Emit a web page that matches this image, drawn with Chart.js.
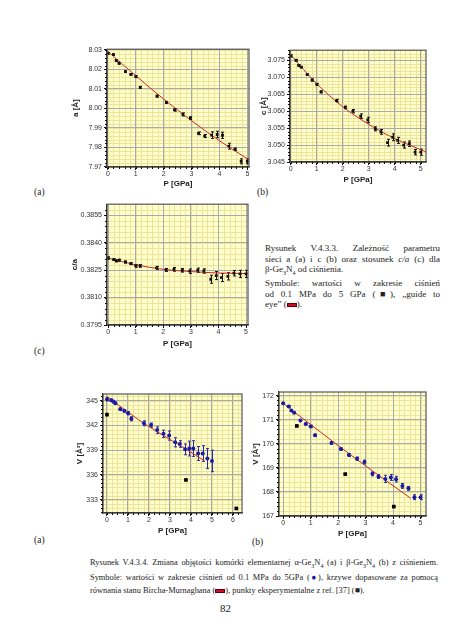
<!DOCTYPE html>
<html><head><meta charset="utf-8">
<script src="https://cdn.jsdelivr.net/npm/chart.js@4.4.1/dist/chart.umd.min.js"></script>
<style>
html,body{margin:0;padding:0;background:#fff;width:452px;height:640px;overflow:hidden;position:relative;font-family:"Liberation Serif","Times New Roman",serif;color:#222;}
canvas{position:absolute;}
.lbl{position:absolute;font-size:9.5px;}
.cap{position:absolute;font-size:8.4px;line-height:10.5px;}
.cap div{white-space:nowrap;}
.j{text-align:justify;text-align-last:justify;white-space:normal!important;}
.rd{display:inline-block;width:8px;height:2px;background:#c8102e;border:0.5px solid #600;vertical-align:middle;}
</style></head><body>
<div class="lbl" style="left:34px;top:187px">(a)</div>
<div class="lbl" style="left:257px;top:187px">(b)</div>
<div class="lbl" style="left:34px;top:346px">(c)</div>
<div class="lbl" style="left:34px;top:535px">(a)</div>
<div class="lbl" style="left:252px;top:537px">(b)</div>
<div class="cap" style="left:265px;top:243px;width:175px;font-size:9px">
<div class="j">Rysunek V.4.3.3. Zależność parametru</div>
<div class="j">sieci a (a) i c (b) oraz stosunek <i>c/a</i> (c) dla</div>
<div>β-Ge<sub style="font-size:6px">3</sub>N<sub style="font-size:6px">4</sub> od ciśnienia.</div>
<div class="j">Symbole: wartości w zakresie ciśnień</div>
<div class="j">od 0.1 MPa do 5 GPa (■), „guide to</div>
<div>eye” (<span class="rd"></span>).</div>
</div>
<div class="cap" style="left:90px;top:557px;width:348px;line-height:12.5px">
<div class="j">Rysunek V.4.3.4. Zmiana objętości komórki elementarnej α-Ge<sub style="font-size:6px">3</sub>N<sub style="font-size:6px">4</sub> (a) i β-Ge<sub style="font-size:6px">3</sub>N<sub style="font-size:6px">4</sub> (b) z ciśnieniem.</div>
<div class="j">Symbole: wartości w zakresie ciśnień od 0.1 MPa do 5GPa (<span style="color:#1a1aa8">●</span>), krzywe dopasowane za pomocą</div>
<div>równania stanu Bircha-Murnaghana (<span class="rd"></span>), punkty eksperymentalne z ref. [37] (■).</div>
</div>
<div class="lbl" style="left:220px;top:602px;font-size:11px">82</div>
<script>
// ---------- DATA ----------
const P = [0, 0.2, 0.3, 0.4, 0.63, 0.82, 1.0, 1.16, 1.76, 2.1, 2.39, 2.69, 2.96, 3.25, 3.47, 3.72, 3.92, 4.11, 4.34, 4.56, 4.78, 5.0];

const aVal = [8.0283, 8.0276, 8.0246, 8.0232, 8.0189, 8.0175, 8.0163, 8.0108, 8.0063, 8.0031, 7.9992, 7.9969, 7.9950, 7.9872, 7.9858, 7.9863, 7.9866, 7.9862, 7.9806, 7.9790, 7.9728, 7.9728];
const aErr = [0.0004, 0.0004, 0.0004, 0.0004, 0.0004, 0.0004, 0.0005, 0.0005, 0.0005, 0.0005, 0.0006, 0.0008, 0.0007, 0.0007, 0.0008, 0.0017, 0.0017, 0.0016, 0.0015, 0.0006, 0.0013, 0.0013];
const aFitP = [0, 1, 2, 3, 4, 5.06];
const aFit = [8.0292, 8.0168, 8.0048, 7.9937, 7.9834, 7.9736];

const cVal = [3.0763, 3.0750, 3.0735, 3.0730, 3.0708, 3.0692, 3.0679, 3.0657, 3.0631, 3.0611, 3.0600, 3.0585, 3.0574, 3.0548, 3.0539, 3.0507, 3.0523, 3.0514, 3.0500, 3.0504, 3.0479, 3.0479];
const cErr = [0.0003, 0.0003, 0.0002, 0.0002, 0.0002, 0.0003, 0.0003, 0.0003, 0.0004, 0.0004, 0.0005, 0.0007, 0.0008, 0.0006, 0.0007, 0.0010, 0.0010, 0.0009, 0.0009, 0.0008, 0.0008, 0.0009];
const cFitP = [0, 1, 2, 3, 4, 5.2];
const cFit = [3.0766, 3.0681, 3.0613, 3.0561, 3.0519, 3.0480];

const caVal = [0.38316, 0.38307, 0.38300, 0.38304, 0.38294, 0.38285, 0.38273, 0.38273, 0.38262, 0.38251, 0.38254, 0.38249, 0.38244, 0.38249, 0.38245, 0.38200, 0.38220, 0.38209, 0.38216, 0.38233, 0.38229, 0.38229];
const caErr = [0.00006, 0.00005, 0.00005, 0.00005, 0.00005, 0.00005, 0.00007, 0.00007, 0.00008, 0.00008, 0.0001, 0.0001, 0.00012, 0.00012, 0.00012, 0.00022, 0.00022, 0.00022, 0.0002, 0.00015, 0.0002, 0.0002];
const caFitP = [0, 1, 2, 3, 4, 5.07];
const caFit = [0.38316, 0.38279, 0.38254, 0.38242, 0.38234, 0.38231];

const VaVal = [345.16, 345.04, 344.88, 344.68, 343.96, 343.76, 343.48, 342.8, 342.25, 342.04, 341.43, 340.98, 340.77, 339.95, 339.75, 339.1, 339.2, 339.2, 338.6, 338.6, 338.0, 337.7];
const VaErr = [0.2, 0.15, 0.15, 0.15, 0.15, 0.15, 0.2, 0.25, 0.3, 0.25, 0.4, 0.45, 0.55, 0.55, 0.4, 0.65, 0.9, 0.95, 0.85, 0.95, 1.2, 1.3];
const VaRefP = [0, 3.76, 6.16];
const VaRef = [343.3, 335.4, 331.95];
const VaFitP = [0, 1, 2, 3, 4, 4.65];
const VaFit = [345.5, 343.6, 341.85, 340.3, 338.75, 337.7];

const VbVal = [171.68, 171.55, 171.38, 171.29, 170.97, 170.82, 170.72, 170.35, 170.03, 169.78, 169.53, 169.38, 169.24, 168.75, 168.64, 168.54, 168.6, 168.53, 168.25, 168.15, 167.78, 167.78];
const VbErr = [0.03, 0.03, 0.03, 0.03, 0.04, 0.04, 0.05, 0.05, 0.05, 0.05, 0.06, 0.07, 0.08, 0.08, 0.08, 0.15, 0.12, 0.12, 0.1, 0.08, 0.1, 0.1];
const VbRefP = [0.5, 2.26, 4.03];
const VbRef = [170.74, 168.74, 167.39];
const VbFitP = [0, 1, 2, 3, 4, 4.65];
const VbFit = [171.68, 170.8, 169.93, 169.08, 168.26, 167.73];

const xTicks5 = [0, 1, 2, 3, 4, 5];
const xTicks6 = [0, 1, 2, 3, 4, 5, 6];
const aTicks = [7.97, 7.98, 7.99, 8.00, 8.01, 8.02, 8.03];
const cTicks = [3.045, 3.050, 3.055, 3.060, 3.065, 3.070, 3.075];
const caTicks = [0.3795, 0.3810, 0.3825, 0.3840, 0.3855];
const VaTicks = [333, 336, 339, 342, 345];
const VbTicks = [167, 168, 169, 170, 171, 172];

// ---------- DRAWING ----------
const pts = (xs, ys) => xs.map((x, i) => ({x, y: ys[i]}));

const deco = {
  id: 'deco',
  beforeDraw(chart, args, o) {
    const {ctx, chartArea: a, scales: {x, y}} = chart;
    ctx.save();
    ctx.fillStyle = '#ffffcc';
    ctx.fillRect(a.left, a.top, a.width, a.height);
    ctx.strokeStyle = '#eee39a';
    ctx.lineWidth = 1;
    ctx.beginPath();
    for (let v = Math.ceil(x.min / o.xm) * o.xm; v <= x.max; v += o.xm) {
      const p = Math.round(x.getPixelForValue(v)) + 0.5;
      ctx.moveTo(p, a.top); ctx.lineTo(p, a.bottom);
    }
    for (let v = Math.ceil(y.min / o.ym - 1e-6) * o.ym; v <= y.max; v += o.ym) {
      const p = Math.round(y.getPixelForValue(v)) + 0.5;
      ctx.moveTo(a.left, p); ctx.lineTo(a.right, p);
    }
    ctx.stroke();
    ctx.restore();
  },
  beforeDatasetsDraw(chart) {
    const {ctx, scales: {x, y}} = chart;
    ctx.save();
    chart.data.datasets.forEach(ds => {
      if (!ds.errors) return;
      ctx.strokeStyle = ds.errColor;
      ctx.lineWidth = 1;
      ctx.beginPath();
      ds.data.forEach((d, i) => {
        const e = ds.errors[i];
        const px = Math.round(x.getPixelForValue(d.x)) + 0.5;
        const y1 = y.getPixelForValue(d.y + e), y2 = y.getPixelForValue(d.y - e);
        ctx.moveTo(px, y1); ctx.lineTo(px, y2);
        ctx.moveTo(px - 1.5, y1); ctx.lineTo(px + 1.5, y1);
        ctx.moveTo(px - 1.5, y2); ctx.lineTo(px + 1.5, y2);
      });
      ctx.stroke();
    });
    ctx.restore();
  },
  afterDraw(chart, args, o) {
    const {ctx, chartArea: a, scales: {x, y}} = chart;
    ctx.save();
    ctx.strokeStyle = '#555';
    ctx.lineWidth = 1.2;
    ctx.strokeRect(a.left, a.top, a.width, a.height);
    ctx.strokeStyle = '#111';
    ctx.lineWidth = 1;
    ctx.beginPath();
    for (let v = Math.ceil(y.min / o.ym - 1e-6) * o.ym; v <= y.max; v += o.ym) {
      const p = Math.round(y.getPixelForValue(v)) + 0.5;
      ctx.moveTo(a.left - 2, p); ctx.lineTo(a.left, p);
    }
    for (let v = Math.ceil(x.min / o.xm) * o.xm; v <= x.max; v += o.xm) {
      const p = Math.round(x.getPixelForValue(v)) + 0.5;
      ctx.moveTo(p, a.bottom); ctx.lineTo(p, a.bottom + 2);
    }
    ctx.stroke();
    ctx.restore();
  }
};
Chart.register(deco);

const tickFont = {family: '"Liberation Sans", Arial, sans-serif', size: 7};
const titleFont = {family: '"Liberation Sans", Arial, sans-serif', size: 8, weight: 'bold'};

function build(box, sc, datasets) {
  const c = document.createElement('canvas');
  c.width = box.w; c.height = box.h;
  c.style.left = box.l + 'px'; c.style.top = box.t + 'px';
  c.style.width = box.w + 'px'; c.style.height = box.h + 'px';
  document.body.appendChild(c);
  new Chart(c, {
    type: 'scatter',
    data: {datasets},
    options: {
      responsive: false, animation: false, devicePixelRatio: 1,
      layout: {padding: {left: 0, top: box.pt, right: box.pr, bottom: 0}},
      plugins: {legend: {display: false}, tooltip: {enabled: false}, deco: {xm: sc.xm, ym: sc.ym}},
      scales: {
        x: {
          type: 'linear', min: sc.xmin, max: sc.xmax,
          afterBuildTicks: s => { s.ticks = sc.xt.map(v => ({value: v})); },
          afterFit: s => { s.height = box.xh; },
          ticks: {font: tickFont, color: '#333', padding: 0, maxRotation: 0, autoSkip: false, callback: v => String(v)},
          grid: {color: '#aaaaaa', lineWidth: 1, tickLength: 3, tickColor: '#111'},
          border: {color: '#111', width: 1.2},
          title: {display: true, text: 'P [GPa]', font: titleFont, color: '#222', padding: 0}
        },
        y: {
          type: 'linear', min: sc.ymin, max: sc.ymax,
          afterBuildTicks: s => { s.ticks = sc.yt.map(v => ({value: v})); },
          afterFit: s => { s.width = box.yw; },
          ticks: {font: tickFont, color: '#333', padding: 2, autoSkip: false, callback: v => v.toFixed(sc.dec)},
          grid: {color: '#aaaaaa', lineWidth: 1, tickLength: 3, tickColor: '#111'},
          border: {color: '#111', width: 1.2},
          title: {display: true, text: sc.title, font: titleFont, color: '#222', padding: 0}
        }
      }
    }
  });
}

function fitDs(xs, ys) {
  return {data: pts(xs, ys), showLine: true, borderColor: '#c8282a', borderWidth: 1, pointRadius: 0, cubicInterpolationMode: 'monotone', order: 3};
}
function blackDs(xs, ys, errs) {
  return {data: pts(xs, ys), errors: errs, errColor: '#111', pointStyle: 'rect', pointRadius: 2, backgroundColor: '#111', borderColor: '#111', borderWidth: 0, order: 1};
}
function blueDs(xs, ys, errs) {
  return {data: pts(xs, ys), errors: errs, errColor: '#2a2aa0', pointStyle: 'circle', pointRadius: 2, backgroundColor: '#1a1aa8', borderColor: '#1a1aa8', borderWidth: 0, order: 1};
}
function refDs(xs, ys) {
  return {data: pts(xs, ys), pointStyle: 'rect', pointRadius: 2.6, backgroundColor: '#000', borderColor: '#000', borderWidth: 0, order: 2};
}

// a(P)
build({l: 71, t: 43, w: 184, h: 146, pt: 6, pr: 6, yw: 36, xh: 22},
  {xmin: -0.03, xmax: 5.06, ymin: 7.9699, ymax: 8.0304, xt: xTicks5, yt: aTicks, dec: 2, xm: 0.2, ym: 0.002, title: 'a [Å]'},
  [blackDs(P, aVal, aErr), fitDs(aFitP, aFit)]);
// c(P)
build({l: 259, t: 44, w: 173, h: 141, pt: 6, pr: 6, yw: 31, xh: 23},
  {xmin: -0.03, xmax: 5.2, ymin: 3.045, ymax: 3.078, xt: xTicks5, yt: cTicks, dec: 3, xm: 0.2, ym: 0.001, title: 'c [Å]'},
  [blackDs(P, cVal, cErr), fitDs(cFitP, cFit)]);
// c/a(P)
build({l: 70, t: 198, w: 184, h: 151, pt: 6, pr: 6, yw: 37, xh: 24},
  {xmin: -0.04, xmax: 5.07, ymin: 0.3795, ymax: 0.3861, xt: xTicks5, yt: caTicks, dec: 4, xm: 0.2, ym: 0.0003, title: 'c/a'},
  [blackDs(P, caVal, caErr), fitDs(caFitP, caFit)]);
// V alpha
build({l: 75, t: 386, w: 173, h: 150, pt: 8, pr: 6, yw: 28, xh: 23},
  {xmin: -0.19, xmax: 6.43, ymin: 331.4, ymax: 345.8, xt: xTicks6, yt: VaTicks, dec: 0, xm: 0.25, ym: 0.5, title: 'V [Å³]'},
  [blueDs(P, VaVal, VaErr), refDs(VaRefP, VaRef), fitDs(VaFitP, VaFit)]);
// V beta
build({l: 251, t: 384, w: 181, h: 155, pt: 8, pr: 6, yw: 28, xh: 23},
  {xmin: -0.15, xmax: 5.2, ymin: 167, ymax: 172.15, xt: xTicks5, yt: VbTicks, dec: 0, xm: 0.2, ym: 0.2, title: 'V [Å³]'},
  [blueDs(P, VbVal, VbErr), refDs(VbRefP, VbRef), fitDs(VbFitP, VbFit)]);
</script>
</body></html>
